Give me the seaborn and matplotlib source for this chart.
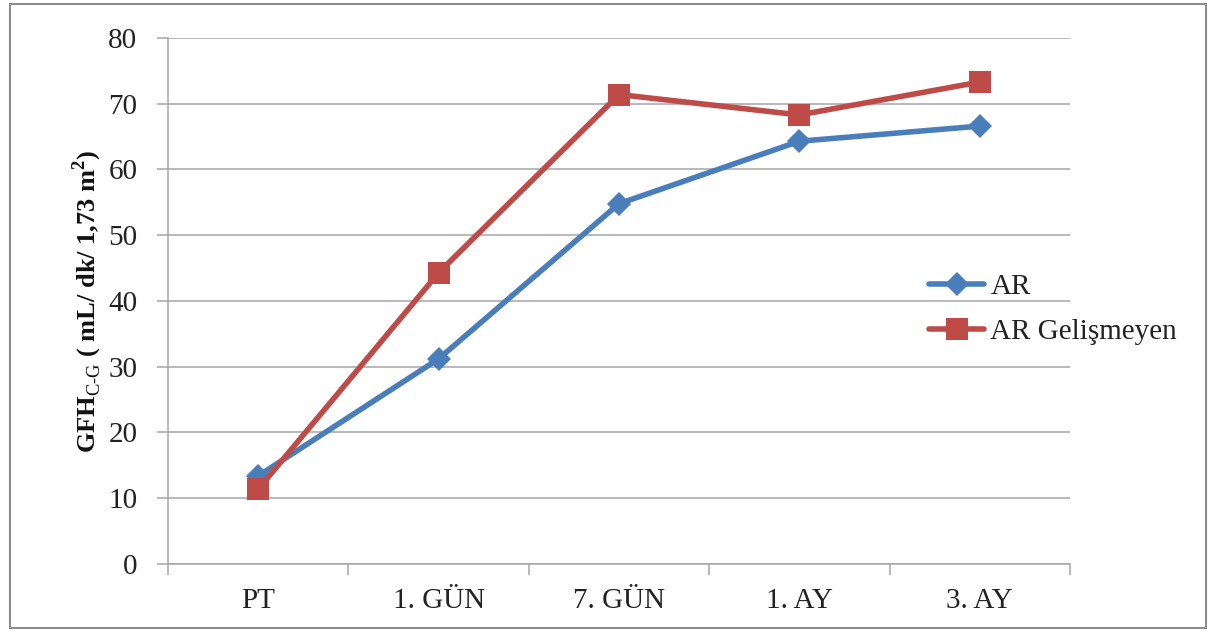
import matplotlib
matplotlib.use("Agg")
import matplotlib.pyplot as plt
import matplotlib.patches as mpatches
import seaborn as sns
import pandas as pd

categories = ["PT", "1. GÜN", "7. GÜN", "1. AY", "3. AY"]
ar_values = [13.4, 31.2, 54.8, 64.3, 66.6]
ar_gelismeyen_values = [11.4, 44.3, 71.4, 68.3, 73.3]
series_names = ["AR", "AR Gelişmeyen"]
y_ticks = [0, 10, 20, 30, 40, 50, 60, 70, 80]

sns.set_theme(style="white")
plt.rcParams["font.family"] = ["Liberation Serif", "DejaVu Serif"]
plt.rcParams["mathtext.fontset"] = "custom"
plt.rcParams["mathtext.rm"] = "Liberation Serif"
plt.rcParams["mathtext.bf"] = "Liberation Serif:bold"

df = pd.concat([
    pd.DataFrame({"kategori": categories, "deger": ar_values, "seri": series_names[0]}),
    pd.DataFrame({"kategori": categories, "deger": ar_gelismeyen_values, "seri": series_names[1]}),
])

fig = plt.figure(figsize=(12.15, 6.32), dpi=100)
ax = fig.add_axes([0.1383, 0.1076, 0.7424, 0.8323])

blue = "#4A7EBB"
red = "#BE4B48"

sns.lineplot(data=df[df["seri"] == series_names[0]], x="kategori", y="deger",
             color=blue, marker="D", markersize=12, markeredgewidth=0,
             linewidth=4, ax=ax, label=series_names[0], sort=False)
sns.lineplot(data=df[df["seri"] == series_names[1]], x="kategori", y="deger",
             color=red, marker="s", markersize=16, markeredgewidth=0,
             linewidth=4, ax=ax, label=series_names[1], sort=False)

ax.set_xlim(-0.5, len(categories) - 0.5)
ax.set_ylim(0, 80)
ax.set_yticks(y_ticks)
ax.set_xticks(range(len(categories)))
ax.set_xticklabels(categories)
ax.set_xticks([i - 0.5 for i in range(len(categories) + 1)], minor=True)

ax.yaxis.grid(True, color="#a6a6a6", linewidth=1.1)
ax.set_axisbelow(True)
for side in ["top", "right"]:
    ax.spines[side].set_visible(False)
for side in ["left", "bottom"]:
    ax.spines[side].set_color("#a6a6a6")
    ax.spines[side].set_linewidth(1.1)

ax.tick_params(axis="y", which="major", direction="out", length=8, width=1.1,
               color="#a6a6a6", left=True, pad=14, labelsize=21, labelcolor="#222222")
ax.tick_params(axis="x", which="major", length=0, pad=17, labelsize=21, labelcolor="#222222")
ax.tick_params(axis="x", which="minor", direction="out", length=8, width=1.1,
               color="#a6a6a6", bottom=True)

ax.set_xlabel("")
ax.set_ylabel(r"GFH$_{\mathrm{C\text{-}G}}$ ( mL/ dk/ 1,73 m$^{\mathbf{2}}$)",
              fontsize=19, fontweight="bold", color="#111111", labelpad=3)

leg = ax.legend(loc="upper left", bbox_to_anchor=(0.755, 0.585), bbox_transform=fig.transFigure,
                frameon=False, fontsize=21, handlelength=1.9, handletextpad=0.2,
                labelspacing=0.62, borderaxespad=0)
for t in leg.get_texts():
    t.set_color("#222222")

fig.patches.append(mpatches.Rectangle((0.008, 0.006), 0.985, 0.987, transform=fig.transFigure,
                                      fill=False, edgecolor="#8c8c8c", linewidth=1.5))

fig.savefig("out.png", dpi=100)
